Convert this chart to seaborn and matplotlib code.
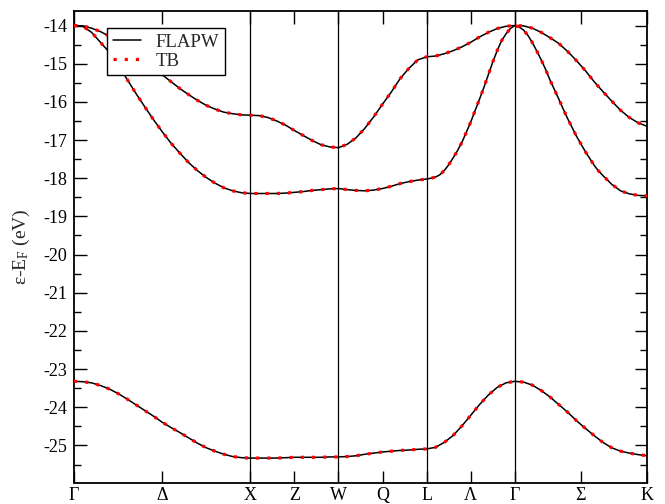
import numpy as np
import pandas as pd
import matplotlib
matplotlib.use("Agg")
import matplotlib.pyplot as plt
from matplotlib.lines import Line2D
from matplotlib.ticker import MultipleLocator
import seaborn as sns

# k-path coordinates (Gamma-X = 1) sampled along the band path
K_AC = [0.00, 0.05, 0.10, 0.15, 0.20, 0.25, 0.30, 0.35, 0.40, 0.45, 0.50,
        0.55, 0.60, 0.65, 0.70, 0.75, 0.80, 0.85, 0.90, 0.95, 1.00,
        1.05, 1.10, 1.15, 1.20, 1.25, 1.30, 1.35, 1.40, 1.45, 1.50,
        1.55, 1.60, 1.65, 1.70, 1.75, 1.80, 1.85, 1.90, 1.95, 2.00,
        2.05, 2.10, 2.15, 2.20, 2.25, 2.30, 2.35, 2.40, 2.45, 2.50,
        2.55, 2.60, 2.65, 2.70, 2.75, 2.80, 2.85, 2.90, 2.95, 3.00,
        3.05, 3.10, 3.15, 3.20, 3.25]

BAND_A = [-14.00, -14.01, -14.07, -14.16, -14.28, -14.42, -14.58, -14.76, -14.94, -15.12, -15.29,
          -15.47, -15.65, -15.81, -15.96, -16.09, -16.19, -16.27, -16.31, -16.34, -16.35,
          -16.36, -16.41, -16.50, -16.61, -16.75, -16.88, -17.01, -17.12, -17.18, -17.20,
          -17.11, -16.94, -16.69, -16.39, -16.06, -15.74, -15.39, -15.12, -14.90, -14.82,
          -14.80, -14.74, -14.66, -14.56, -14.44, -14.30, -14.18, -14.08, -14.02, -14.00,
          -14.01, -14.07, -14.18, -14.32, -14.47, -14.68, -14.92, -15.18, -15.47, -15.73,
          -15.98, -16.22, -16.41, -16.55, -16.64]

BAND_C = [-23.32, -23.33, -23.36, -23.43, -23.52, -23.64, -23.78, -23.93, -24.08, -24.23, -24.39,
          -24.53, -24.66, -24.80, -24.94, -25.06, -25.15, -25.23, -25.29, -25.32, -25.33,
          -25.33, -25.33, -25.33, -25.32, -25.31, -25.31, -25.31, -25.31, -25.30, -25.30,
          -25.29, -25.27, -25.23, -25.20, -25.17, -25.15, -25.13, -25.12, -25.10, -25.09,
          -25.05, -24.92, -24.74, -24.49, -24.21, -23.93, -23.68, -23.48, -23.36, -23.32,
          -23.34, -23.42, -23.56, -23.73, -23.93, -24.13, -24.35, -24.55, -24.74, -24.92,
          -25.06, -25.15, -25.20, -25.24, -25.27]

K_B = [0.00, 0.05, 0.10, 0.15, 0.20, 0.25, 0.30, 0.35, 0.40, 0.45, 0.50,
       0.55, 0.60, 0.65, 0.70, 0.75, 0.80, 0.85, 0.90, 0.95, 1.00,
       1.05, 1.10, 1.15, 1.20, 1.25, 1.30, 1.35, 1.40, 1.45, 1.50,
       1.55, 1.60, 1.65, 1.70, 1.75, 1.80, 1.85, 1.90, 1.95, 2.00,
       2.025, 2.05, 2.075, 2.10, 2.125, 2.15, 2.175, 2.20, 2.225, 2.25,
       2.275, 2.30, 2.325, 2.35, 2.375, 2.40, 2.425, 2.45, 2.475, 2.50,
       2.525, 2.55, 2.575, 2.60, 2.625, 2.65, 2.675, 2.70, 2.725, 2.75,
       2.775, 2.80, 2.825, 2.85, 2.875, 2.90, 2.925, 2.95, 2.975, 3.00,
       3.05, 3.10, 3.15, 3.20, 3.25]

BAND_B = [-14.00, -14.02, -14.18, -14.44, -14.70, -15.03, -15.40, -15.77, -16.12, -16.46, -16.78,
          -17.08, -17.34, -17.59, -17.80, -17.98, -18.13, -18.25, -18.33, -18.38, -18.40,
          -18.40, -18.40, -18.40, -18.39, -18.37, -18.35, -18.32, -18.30, -18.28, -18.27,
          -18.30, -18.32, -18.33, -18.31, -18.27, -18.21, -18.14, -18.09, -18.05, -18.02,
          -18.00, -17.97, -17.91, -17.80, -17.65, -17.47, -17.28, -17.06, -16.80, -16.53,
          -16.23, -15.93, -15.62, -15.29, -14.96, -14.66, -14.40, -14.22, -14.08, -14.00,
          -14.04, -14.12, -14.26, -14.45, -14.67, -14.90, -15.15, -15.43, -15.68, -15.93,
          -16.19, -16.44, -16.67, -16.90, -17.10, -17.30, -17.48, -17.66, -17.81, -17.93,
          -18.16, -18.33, -18.41, -18.45, -18.46]

# high-symmetry points and their labels
TICK_POS = [0.0, 0.5, 1.0, 1.25, 1.5, 1.75, 2.0, 2.25, 2.5, 2.875, 3.25]
TICK_LABELS = ["Γ", "Δ", "X", "Z", "W", "Q", "L", "Λ", "Γ", "Σ", "K"]
VLINES = [1.0, 1.5, 2.0, 2.5]

TB_DOTS = (0, (1, 2.5))


def main():
    sns.set_style("ticks")
    plt.rcParams['font.family'] = ['Liberation Serif', 'DejaVu Serif']
    plt.rcParams['mathtext.fontset'] = 'custom'
    plt.rcParams['mathtext.rm'] = 'Liberation Serif'
    plt.rcParams['mathtext.it'] = 'Liberation Serif:italic'
    plt.rcParams['axes.unicode_minus'] = False

    fig = plt.figure(figsize=(6.65, 5.04), dpi=100)
    ax = fig.add_axes([74 / 665, (504 - 482.5) / 504, (647 - 74) / 665, (482.5 - 11) / 504])

    bands = [(K_AC, BAND_A), (K_B, BAND_B), (K_AC, BAND_C)]

    # FLAPW: solid black
    for k, e in bands:
        df = pd.DataFrame({'k': k, 'E': e})
        sns.lineplot(data=df, x='k', y='E', ax=ax, color='black', linewidth=1.1,
                     sort=False, estimator=None, zorder=3)

    # TB: red dotted on top
    for k, e in bands:
        df = pd.DataFrame({'k': k, 'E': e})
        sns.lineplot(data=df, x='k', y='E', ax=ax, color='red', linewidth=2.3,
                     sort=False, estimator=None, zorder=4)
        ax.lines[-1].set_linestyle(TB_DOTS)
        ax.lines[-1].set_dash_capstyle('butt')

    for x in VLINES:
        ax.axvline(x, color='black', linewidth=0.9, zorder=2)

    ax.set_xlim(0, 3.25)
    ax.set_ylim(-25.97, -13.62)
    ax.set_xticks(TICK_POS)
    ax.set_xticklabels(TICK_LABELS)
    ax.yaxis.set_major_locator(MultipleLocator(1))
    ax.yaxis.set_minor_locator(MultipleLocator(0.5))
    ax.set_xlabel('')
    ax.set_ylabel(r'ε-E$_{\rm F}$ (eV)', fontsize=14, labelpad=8)

    ax.tick_params(which='both', direction='in', top=True, right=True, colors='black',
                   labelsize=13)
    ax.tick_params(axis='y', which='major', length=9, width=1.0, pad=5)
    ax.tick_params(axis='y', which='minor', length=5, width=1.0)
    ax.tick_params(axis='x', which='major', length=9, width=1.0, pad=12.3)
    for lab in ax.get_xticklabels():
        lab.set_va('baseline')
    for s in ax.spines.values():
        s.set_linewidth(1.3)
        s.set_color('black')

    handles = [Line2D([], [], color='black', linewidth=1.1),
               Line2D([], [], color='red', linewidth=2.3, linestyle=TB_DOTS,
                      dash_capstyle='butt')]
    leg = ax.legend(handles, ['FLAPW', 'TB'], loc='upper left',
                    bbox_to_anchor=(0.0576, 0.964), borderaxespad=0,
                    frameon=True, fancybox=False, framealpha=1, edgecolor='black',
                    fontsize=13.5, handlelength=1.5, handletextpad=0.8,
                    borderpad=0.3, labelspacing=0.1)
    leg.get_frame().set_linewidth(1.0)

    fig.savefig('out.png', dpi=100)
    plt.close(fig)


if __name__ == "__main__":
    main()
